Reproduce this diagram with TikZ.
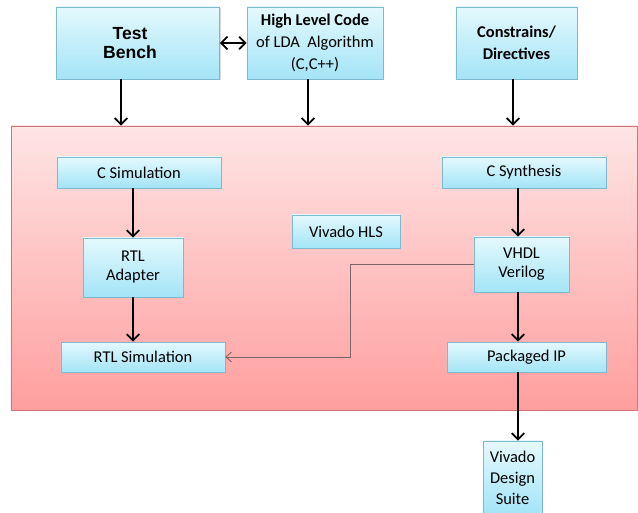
\documentclass[tikz,border=0pt]{standalone}
\usepackage{fontspec}
\setmainfont{Carlito}
\newfontfamily\arialfont{Liberation Sans}
\usetikzlibrary{arrows.meta,shadows}

\definecolor{boxtop}{HTML}{E4F9FD}
\definecolor{boxbot}{HTML}{A3E4F7}
\definecolor{boxline}{HTML}{7DB9CF}
\definecolor{areatop}{HTML}{FFE5E5}
\definecolor{areabot}{HTML}{FF9E9E}
\definecolor{arealine}{HTML}{D07575}
\definecolor{thinline}{HTML}{7A6666}

\tikzset{
  stage/.style={draw=boxline, top color=boxtop, bottom color=boxbot, inner sep=0pt,
    align=center, font=\fontsize{11.7}{13.5}\selectfont,
    drop shadow={shadow xshift=1pt, shadow yshift=-1pt, fill=black!30}},
  flow/.style={line width=1.3pt, -{Straight Barb[length=4.5pt,width=9pt]}},
  link/.style={thinline, line width=0.6pt, -{Straight Barb[length=4pt,width=7pt]}},
}

\begin{document}
\begin{tikzpicture}[x=0.025cm,y=-0.025cm]
\useasboundingbox (0,0) rectangle (638,513);

% Vivado HLS area
\node (area) [draw=arealine, top color=areatop, bottom color=areabot,
  minimum width=15.65cm, minimum height=7.1cm, inner sep=0pt,
  drop shadow={shadow xshift=1pt, shadow yshift=-1pt, fill=black!30}] at (324,268) {};

% inputs
\node (tb) [stage, minimum width=4.075cm, minimum height=1.8cm,
  font=\arialfont\bfseries\fontsize{12.5}{14}\selectfont] at (138,43) {Test\hspace*{0.4cm}\\Bench\hspace*{0.4cm}};
\node (hlc) [stage, minimum width=3.4cm, minimum height=1.8cm,
  font=\fontsize{11.7}{15.5}\selectfont] at (315,43) {\textbf{High Level Code}\\of LDA~ Algorithm\\(C,C++)};
\node (cd) [stage, minimum width=3.025cm, minimum height=1.8cm,
  font=\bfseries\fontsize{11.7}{16}\selectfont] at (516.5,43) {Constrains/\\Directives};

% inside the area
\node (csim) [stage, minimum width=4.1cm, minimum height=0.775cm] at (139,172.5) {C Simulation};
\node (rtla) [stage, minimum width=2.5cm, minimum height=1.475cm] at (133,267.5) {RTL\\Adapter};
\node (rtls) [stage, minimum width=4.1cm, minimum height=0.75cm] at (143,357) {RTL Simulation};
\node (hls) [stage, minimum width=2.7cm, minimum height=0.825cm] at (346,231.5) {Vivado HLS};
\node (csyn) [stage, minimum width=4.1cm, minimum height=0.775cm] at (524,172.5) {C Synthesis};
\node (vhdl) [stage, minimum width=2.375cm, minimum height=1.375cm] at (521.5,264.5) {VHDL\\Verilog};
\node (pip) [stage, minimum width=3.975cm, minimum height=0.75cm] at (526.5,357) {Packaged IP};

% output
\node (vds) [stage, minimum width=1.475cm, minimum height=1.825cm,
  font=\fontsize{11.7}{15}\selectfont] at (512.5,477.5) {Vivado\\Design\\Suite};

\coordinate (tbcol) at (121,0);
\coordinate (hlccol) at (308,0);
\coordinate (cdcol) at (513,0);
\coordinate (ipcol) at (518,0);
\coordinate (bend) at (350,300);

\draw[line width=1.3pt, {Straight Barb[length=4.5pt,width=9pt]}-{Straight Barb[length=4.5pt,width=9pt]}] (tb.east) -- (hlc.west);
\draw[flow] (tb.south -| tbcol) -- (area.north -| tbcol);
\draw[flow] (hlc.south -| hlccol) -- (area.north -| hlccol);
\draw[flow] (cd.south -| cdcol) -- (area.north -| cdcol);

\draw[flow] (rtla.north |- csim.south) -- (rtla.north);
\draw[flow] (rtla.south) -- (rtla.south |- rtls.north);
\draw[flow] (csyn.south -| ipcol) -- (vhdl.north -| ipcol);
\draw[flow] (vhdl.south -| ipcol) -- (pip.north -| ipcol);
\draw[flow] (pip.south -| ipcol) -- (vds.north -| ipcol);

\draw[link] (vhdl.west) -- (vhdl.west -| bend) -- (bend |- rtls.east) -- (rtls.east);

\end{tikzpicture}
\end{document}
